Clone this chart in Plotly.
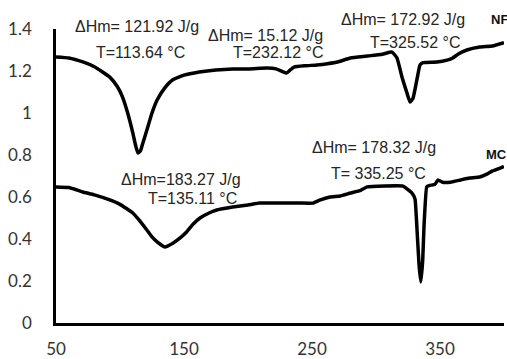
import plotly.graph_objects as go

# NF curve (temperature °C, heat flow)
nf_x = [50, 60, 71, 80, 92, 98, 102, 106, 110, 112, 114, 116, 118, 121, 125, 129, 135, 141, 150, 162,
        175, 188, 201, 215, 222, 227, 230, 233, 236, 245, 254, 262, 270, 280, 293, 305, 312.5, 316.4,
        320.3, 324.2, 326.6, 328.9, 332, 334.4, 336.7, 347.7, 355.5, 360, 364, 371, 381, 391, 400]
nf_y = [1.267, 1.262, 1.243, 1.22, 1.171, 1.125, 1.076, 1.0, 0.905, 0.85, 0.81, 0.82, 0.86, 0.919, 1.0,
        1.062, 1.12, 1.157, 1.18, 1.195, 1.205, 1.21, 1.21, 1.214, 1.21, 1.197, 1.19, 1.205, 1.219,
        1.225, 1.229, 1.235, 1.243, 1.262, 1.271, 1.28, 1.29, 1.262, 1.171, 1.095, 1.052, 1.07, 1.16,
        1.229, 1.24, 1.243, 1.252, 1.262, 1.28, 1.3, 1.314, 1.319, 1.335]

# MC curve
mc_x = [50, 60, 71, 80, 92, 100, 110, 115, 121, 125, 129, 135, 141.6, 147, 152, 157, 162.5, 170, 175.6,
        188, 200, 209, 215, 240, 250.8, 256, 264, 272, 280, 288, 293, 321, 328, 330.5, 332, 333.6, 335,
        336.5, 337.5, 339.6, 342, 346, 348.4, 352, 358, 366, 373, 381, 387, 391, 399.2, 400]
mc_y = [0.648, 0.645, 0.624, 0.61, 0.586, 0.565, 0.524, 0.49, 0.443, 0.41, 0.386, 0.362, 0.381, 0.405,
        0.433, 0.47, 0.5, 0.525, 0.538, 0.552, 0.562, 0.571, 0.571, 0.571, 0.571, 0.585, 0.6, 0.605,
        0.619, 0.632, 0.648, 0.652, 0.62, 0.59, 0.45, 0.28, 0.195, 0.3, 0.46, 0.648, 0.655, 0.66, 0.681,
        0.67, 0.67, 0.681, 0.69, 0.695, 0.71, 0.724, 0.743, 0.745]

x_ticks = [50, 150, 250, 350]
y_ticks = [0, 0.2, 0.4, 0.6, 0.8, 1, 1.2, 1.4]
y_tick_text = ["0", "0.2", "0.4", "0.6", "0.8", "1", "1.2", "1.4"]

X_RANGE = [50, 400]
Y_RANGE = [0, 1.4]

notes = [
    ("ΔHm= 121.92 J/g", 113.3, 1.414),
    ("T=113.64 °C", 116.4, 1.29),
    ("ΔHm= 15.12 J/g", 213.3, 1.367),
    ("T=232.12 °C", 223.4, 1.286),
    ("ΔHm= 172.92 J/g", 321.1, 1.443),
    ("T=325.52 °C", 330.5, 1.338),
    ("ΔHm=183.27 J/g", 147.7, 0.681),
    ("T=135.11 °C", 157.0, 0.595),
    ("ΔHm= 178.32 J/g", 298.4, 0.838),
    ("T= 335.25 °C", 301.6, 0.71),
]
series_labels = [("NF", 388.5, 1.443), ("MC", 384.0, 0.80)]


def to_paper(x, y):
    return ((x - X_RANGE[0]) / (X_RANGE[1] - X_RANGE[0]),
            (y - Y_RANGE[0]) / (Y_RANGE[1] - Y_RANGE[0]))


fig = go.Figure()
fig.add_trace(go.Scatter(x=nf_x, y=nf_y, mode="lines",
                         line=dict(color="black", width=3.5, shape="spline", smoothing=0.4),
                         showlegend=False, hoverinfo="skip"))
fig.add_trace(go.Scatter(x=mc_x, y=mc_y, mode="lines",
                         line=dict(color="black", width=3.5, shape="spline", smoothing=0.3),
                         showlegend=False, hoverinfo="skip"))

for txt, x, y in notes:
    px, py = to_paper(x, y)
    fig.add_annotation(x=px, y=py, xref="paper", yref="paper", text=txt, showarrow=False,
                       xanchor="center", yanchor="middle",
                       font=dict(family="Liberation Sans, Arial", size=16, color="#262626"))
for txt, x, y in series_labels:
    px, py = to_paper(x, y)
    fig.add_annotation(x=px, y=py, xref="paper", yref="paper", text="<b>" + txt + "</b>",
                       showarrow=False, xanchor="left", yanchor="middle",
                       font=dict(family="Liberation Sans, Arial", size=13, color="#111111"))

fig.update_layout(
    width=507, height=359,
    margin=dict(l=56, r=3, t=29, b=36),
    paper_bgcolor="white", plot_bgcolor="white",
    xaxis=dict(range=X_RANGE, tickvals=x_ticks, showgrid=False, zeroline=False, automargin=False,
               showline=True, linecolor="black", linewidth=2.5, ticks="",
               ticklabelstandoff=9,
               tickfont=dict(family="Lato, Open Sans", size=17, color="#333333")),
    yaxis=dict(range=Y_RANGE, tickvals=y_ticks, ticktext=y_tick_text, showgrid=False, zeroline=False,
               automargin=False,
               showline=True, linecolor="black", linewidth=2.5, ticks="",
               ticklabelstandoff=18,
               tickfont=dict(family="Lato, Open Sans", size=17, color="#333333")),
)

fig.write_html("out.html", config={"displayModeBar": False},
               post_script="document.body.style.margin='0';document.body.style.overflow='hidden';")
